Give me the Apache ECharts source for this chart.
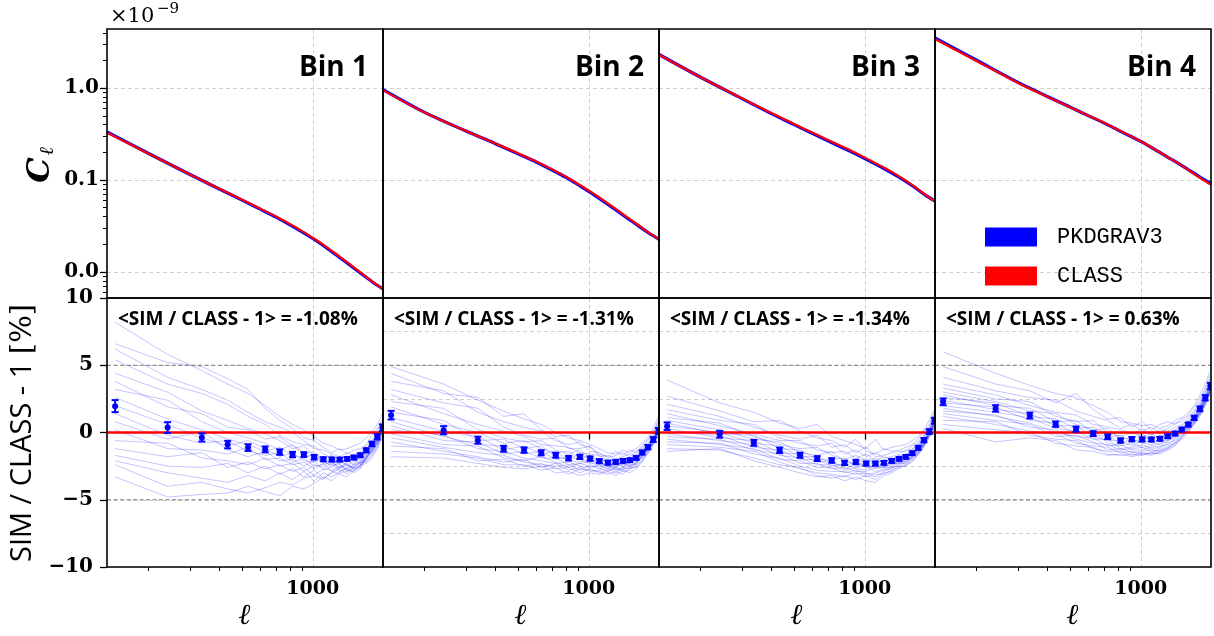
<!DOCTYPE html>
<html><head><meta charset="utf-8">
<script src="https://cdn.jsdelivr.net/npm/echarts@6/dist/echarts.min.js"></script>
<style>html,body{margin:0;padding:0;background:#fff}#c{width:1214px;height:636px}</style>
</head><body><div id="c"></div>
<script>
// ---------- DATA ----------
const ells = [144, 241, 337, 434, 530, 627, 723, 820, 916, 1013, 1109, 1206, 1302, 1399, 1495, 1592, 1688, 1785, 1881, 1978];
const clEll = [133, 200, 300, 400, 500, 600, 700, 800, 900, 1000, 1100, 1200, 1300, 1450, 1600, 1800, 1990];

// C_ell in units of 1e-9
const clClass1 = [0.327, 0.1936, 0.115, 0.0802, 0.0611, 0.0485, 0.0398, 0.0331, 0.0278, 0.0235, 0.02005, 0.01705, 0.01469, 0.01189, 0.00982, 0.00778, 0.00652];
const clSim1   = [0.334, 0.1945, 0.1148, 0.0798, 0.0605, 0.0479, 0.0392, 0.0325, 0.0273, 0.0231, 0.01965, 0.0167, 0.0144, 0.01167, 0.00968, 0.00772, 0.00654];
const clClass2 = [0.951, 0.5417, 0.3408, 0.250, 0.1951, 0.1585, 0.130, 0.1086, 0.0905, 0.0769, 0.0654, 0.0560, 0.0485, 0.0397, 0.0332, 0.0267, 0.02255];
const clSim2   = [0.963, 0.5445, 0.3408, 0.2485, 0.1927, 0.1562, 0.1279, 0.1066, 0.0888, 0.0754, 0.0640, 0.0548, 0.0475, 0.0389, 0.0327, 0.0265, 0.02258];
const clClass3 = [2.312, 1.314, 0.7747, 0.5355, 0.4072, 0.3266, 0.2715, 0.2312, 0.2005, 0.1752, 0.1542, 0.1374, 0.1225, 0.1036, 0.0873, 0.0697, 0.0585];
const clSim3   = [2.323, 1.313, 0.7700, 0.5285, 0.4005, 0.3204, 0.2659, 0.2262, 0.1962, 0.1712, 0.1507, 0.1344, 0.1200, 0.1018, 0.0862, 0.0693, 0.0590];
const clClass4 = [3.43, 1.975, 1.14, 0.805, 0.62, 0.5, 0.417, 0.3515, 0.3023, 0.2641, 0.2300, 0.2013, 0.1779, 0.1506, 0.1276, 0.1045, 0.0888];
const clSim4   = [3.51, 2.012, 1.155, 0.812, 0.622, 0.4995, 0.4155, 0.3494, 0.3009, 0.2628, 0.2289, 0.2008, 0.1779, 0.1512, 0.1286, 0.1065, 0.0918];

// mean SIM/CLASS-1 [%] and error bars
const mean1 = [1.96, 0.37, -0.37, -0.90, -1.12, -1.26, -1.46, -1.64, -1.64, -1.84, -1.99, -2.01, -2.01, -1.96, -1.86, -1.69, -1.32, -0.85, -0.32, 0.35];
const mean2 = [1.29, 0.17, -0.57, -1.21, -1.31, -1.51, -1.69, -1.91, -1.81, -1.94, -2.13, -2.24, -2.19, -2.11, -2.06, -1.89, -1.49, -1.09, -0.52, 0.12];
const mean3 = [0.47, -0.13, -0.77, -1.32, -1.69, -1.94, -2.08, -2.26, -2.19, -2.31, -2.31, -2.26, -2.11, -1.96, -1.81, -1.54, -1.14, -0.57, 0.07, 0.87];
const mean4 = [2.28, 1.79, 1.26, 0.62, 0.25, -0.08, -0.32, -0.60, -0.50, -0.52, -0.52, -0.47, -0.28, -0.08, 0.22, 0.59, 1.09, 1.76, 2.58, 3.45];
const err1 = [0.45, 0.40, 0.30, 0.28, 0.25, 0.22, 0.20, 0.20, 0.17, 0.17, 0.15, 0.15, 0.14, 0.14, 0.14, 0.14, 0.15, 0.17, 0.20, 0.25];
const err2 = [0.32, 0.30, 0.26, 0.22, 0.20, 0.19, 0.18, 0.17, 0.16, 0.16, 0.15, 0.15, 0.14, 0.14, 0.14, 0.14, 0.15, 0.16, 0.18, 0.22];
const err3 = [0.28, 0.25, 0.22, 0.20, 0.19, 0.18, 0.17, 0.16, 0.16, 0.15, 0.15, 0.14, 0.14, 0.14, 0.14, 0.14, 0.15, 0.16, 0.18, 0.22];
const err4 = [0.25, 0.24, 0.22, 0.20, 0.19, 0.18, 0.17, 0.16, 0.16, 0.15, 0.15, 0.14, 0.14, 0.14, 0.14, 0.15, 0.16, 0.18, 0.20, 0.24];

// individual simulation realizations [%]
const runs1 = [
 [8.2, 5.8, 4.6, 3.6, 2.9, 2.0, 1.2, 0.6, 0.2, -0.3, -0.8, -1.0, -1.3, -1.2, -1.0, -0.8, -0.4, 0.0, 0.6, 1.4],
 [6.6, 5.2, 4.9, 4.0, 3.2, 1.8, 0.9, 0.3, -0.4, -0.6, -1.1, -1.5, -1.2, -1.6, -1.3, -1.2, -0.9, -0.2, 0.3, 1.0],
 [6.2, 4.1, 3.2, 2.4, 1.5, 0.8, 0.4, 0.0, -0.6, -1.2, -1.3, -1.6, -1.8, -1.5, -1.7, -1.4, -1.0, -0.6, 0.1, 0.8],
 [5.4, 3.6, 2.9, 2.1, 1.2, 0.6, -0.2, -0.7, -0.9, -1.0, -1.6, -1.9, -2.2, -2.0, -1.8, -1.9, -1.3, -0.8, -0.1, 0.5],
 [4.4, 3.0, 1.6, 0.9, 0.3, -0.1, -0.6, -1.2, -1.0, -1.7, -1.9, -1.7, -2.3, -2.1, -2.4, -1.8, -1.5, -1.1, -0.4, 0.3],
 [3.8, 1.9, 1.4, 0.4, 0.2, -0.5, -0.3, -1.0, -1.6, -1.4, -2.2, -2.4, -2.0, -2.5, -2.1, -2.0, -1.7, -0.9, -0.5, 0.6],
 [3.2, 2.4, 0.8, 0.0, -0.4, -0.8, -1.3, -0.9, -1.5, -2.0, -1.8, -2.2, -2.6, -2.2, -2.0, -2.3, -1.4, -1.2, -0.6, 0.1],
 [2.6, 1.0, 0.2, -0.5, -0.9, -1.4, -1.1, -1.7, -1.9, -1.6, -2.3, -2.0, -2.4, -2.7, -2.3, -1.8, -1.6, -1.0, -0.3, 0.4],
 [2.0, 0.6, -0.4, -1.0, -0.6, -1.2, -1.8, -1.5, -2.1, -2.2, -2.0, -2.6, -2.1, -2.4, -2.6, -2.1, -1.9, -1.3, -0.7, 0.0],
 [1.4, -0.2, -0.8, -0.6, -1.4, -1.7, -1.5, -2.2, -1.9, -2.5, -2.4, -2.2, -2.7, -2.3, -2.8, -2.4, -1.7, -1.4, -0.8, 0.2],
 [0.8, -0.5, 0.1, -1.3, -1.8, -1.4, -2.1, -2.0, -2.5, -2.1, -2.8, -2.5, -2.3, -2.9, -2.4, -2.2, -2.0, -1.1, -0.6, 0.5],
 [0.2, -1.2, -1.3, -1.6, -1.1, -2.0, -1.9, -2.4, -2.2, -2.7, -2.3, -2.9, -2.6, -2.4, -2.7, -2.6, -1.8, -1.5, -0.9, -0.1],
 [-0.6, -0.8, -1.9, -2.1, -2.4, -1.9, -2.5, -2.3, -2.9, -2.4, -2.6, -2.3, -2.9, -2.6, -2.5, -2.3, -2.1, -1.6, -1.0, 0.1],
 [-1.2, -1.8, -1.5, -2.6, -2.2, -2.7, -2.4, -2.9, -2.6, -3.2, -2.7, -2.8, -2.5, -2.8, -2.9, -2.5, -1.9, -1.3, -0.7, 0.3],
 [-1.7, -2.5, -2.6, -2.3, -3.0, -2.5, -3.1, -2.7, -3.3, -2.8, -3.4, -3.0, -2.7, -3.1, -2.6, -2.2, -2.2, -1.7, -1.1, -0.2],
 [-2.1, -3.0, -3.4, -3.7, -3.2, -3.6, -3.0, -3.5, -2.9, -3.6, -3.0, -3.3, -2.9, -2.7, -3.0, -2.7, -2.0, -1.4, -0.8, 0.2],
 [-2.4, -4.0, -3.7, -4.2, -4.5, -4.1, -3.7, -3.9, -3.4, -3.2, -3.5, -2.9, -3.1, -3.3, -2.8, -2.4, -2.3, -1.9, -1.2, -0.4],
 [-3.3, -4.8, -4.6, -4.5, -4.0, -4.4, -4.7, -4.0, -4.2, -3.8, -3.3, -3.6, -3.0, -2.9, -2.6, -2.5, -1.8, -1.2, -0.6, 0.4]
];
const runs2 = [
 [4.9, 3.6, 2.4, 1.6, 1.0, 0.6, 0.0, -0.4, -0.6, -0.9, -1.2, -1.5, -1.6, -1.3, -1.5, -1.2, -0.8, -0.3, 0.3, 1.2],
 [4.4, 2.9, 2.6, 1.2, 1.4, 0.2, -0.3, -0.2, -0.9, -1.1, -1.6, -1.8, -1.4, -1.7, -1.3, -1.5, -1.0, -0.5, 0.1, 0.8],
 [3.8, 3.1, 1.5, 0.8, 0.4, 0.1, -0.6, -0.9, -0.7, -1.4, -1.5, -1.9, -1.7, -1.5, -1.8, -1.4, -1.1, -0.6, -0.1, 0.9],
 [3.2, 2.2, 1.8, 0.4, -0.2, -0.5, -0.4, -1.2, -1.2, -1.0, -1.8, -1.7, -2.0, -1.8, -1.6, -1.7, -1.3, -0.9, -0.3, 0.5],
 [2.8, 1.4, 0.6, 0.1, -0.3, -0.9, -1.0, -1.1, -1.5, -1.6, -1.7, -2.1, -1.9, -2.1, -2.0, -1.6, -1.2, -0.8, -0.4, 0.4],
 [2.3, 1.8, 0.2, -0.4, -0.7, -0.6, -1.3, -1.6, -1.3, -1.9, -2.0, -2.2, -2.3, -1.9, -2.2, -1.9, -1.5, -1.0, -0.5, 0.2],
 [1.9, 0.6, 0.0, -0.8, -0.6, -1.2, -1.5, -1.4, -1.9, -1.7, -2.2, -2.0, -2.4, -2.2, -2.0, -2.0, -1.4, -1.1, -0.6, 0.3],
 [1.5, 0.9, -0.6, -0.5, -1.2, -1.0, -1.8, -2.0, -1.6, -2.1, -2.1, -2.5, -2.2, -2.4, -2.3, -1.8, -1.6, -1.2, -0.4, 0.1],
 [1.1, 0.1, -0.3, -1.3, -1.0, -1.6, -1.4, -2.1, -2.2, -2.0, -2.4, -2.3, -2.6, -2.3, -2.1, -2.1, -1.5, -1.0, -0.7, 0.0],
 [0.8, -0.3, -0.9, -1.0, -1.6, -1.4, -2.0, -1.8, -2.0, -2.3, -2.2, -2.6, -2.4, -2.5, -2.4, -2.2, -1.7, -1.3, -0.6, 0.2],
 [0.5, -0.6, -0.7, -1.6, -1.4, -1.9, -1.9, -2.4, -2.3, -2.2, -2.5, -2.4, -2.7, -2.6, -2.2, -2.0, -1.8, -1.1, -0.5, -0.1],
 [0.2, -0.2, -1.2, -1.4, -1.9, -2.1, -2.3, -2.2, -2.5, -2.6, -2.4, -2.7, -2.5, -2.3, -2.5, -2.3, -1.6, -1.4, -0.8, 0.0],
 [-0.1, -0.9, -1.0, -1.9, -2.1, -1.8, -2.2, -2.6, -2.3, -2.5, -2.7, -2.5, -2.8, -2.7, -2.6, -2.2, -1.9, -1.2, -0.6, -0.2],
 [-0.4, -1.1, -1.5, -1.7, -2.2, -2.4, -2.5, -2.4, -2.8, -2.4, -2.6, -2.9, -2.6, -2.8, -2.4, -2.4, -1.7, -1.3, -0.9, 0.1],
 [-0.7, -1.4, -1.8, -2.2, -2.0, -2.6, -2.3, -2.8, -2.6, -2.9, -2.8, -2.7, -3.0, -2.6, -2.7, -2.5, -2.0, -1.5, -0.7, -0.3],
 [-1.0, -1.2, -2.1, -2.0, -2.5, -2.3, -2.7, -2.6, -3.0, -2.7, -3.0, -2.8, -2.7, -2.9, -2.8, -2.3, -1.8, -1.2, -0.5, -0.4],
 [-1.4, -1.6, -1.9, -2.4, -2.4, -2.8, -2.6, -3.1, -2.7, -2.8, -2.9, -3.1, -2.9, -3.1, -2.6, -2.6, -2.1, -1.6, -1.0, -0.1],
 [-1.8, -1.9, -2.3, -2.6, -2.7, -2.5, -3.0, -2.9, -3.2, -3.0, -3.1, -2.9, -3.2, -2.8, -3.0, -2.7, -2.2, -1.4, -0.8, 0.2]
];
const runs3 = [
 [3.9, 2.2, 1.5, 0.7, 0.3, 0.6, -0.3, -0.6, -0.9, -1.2, -0.5, -1.3, -1.1, -1.0, -0.9, -0.6, -0.3, 0.2, 0.9, 1.7],
 [2.7, 1.6, 0.8, 0.9, 0.1, -0.4, -0.6, -1.1, -0.5, -1.4, -1.6, -1.2, -1.4, -1.3, -1.1, -0.9, -0.5, 0.1, 0.6, 1.5],
 [2.1, 1.2, 0.4, -0.2, -0.5, -0.2, -1.1, -0.9, -1.5, -1.1, -1.8, -1.7, -1.5, -1.4, -1.4, -1.0, -0.7, -0.2, 0.4, 1.3],
 [1.7, 0.9, 0.6, -0.4, -0.8, -1.0, -0.8, -1.6, -1.3, -1.8, -1.5, -1.9, -1.8, -1.6, -1.3, -1.3, -0.8, -0.3, 0.3, 1.1],
 [1.4, 0.5, -0.1, -0.6, -0.6, -1.3, -1.5, -1.4, -1.9, -1.6, -2.1, -1.8, -2.0, -1.7, -1.7, -1.2, -1.0, -0.4, 0.2, 1.0],
 [1.1, 0.7, -0.3, -0.9, -1.2, -1.1, -1.7, -2.0, -1.7, -2.1, -1.9, -2.2, -1.9, -1.9, -1.6, -1.5, -1.0, -0.5, 0.1, 0.9],
 [0.9, 0.2, -0.5, -0.7, -1.5, -1.7, -1.4, -2.2, -2.3, -1.9, -2.3, -2.0, -2.1, -1.8, -1.9, -1.4, -1.2, -0.6, 0.0, 0.8],
 [0.7, -0.1, -0.2, -1.2, -1.3, -2.0, -2.0, -1.9, -2.5, -2.4, -2.2, -2.4, -2.2, -2.0, -1.8, -1.6, -1.1, -0.7, 0.1, 0.9],
 [0.5, 0.0, -0.8, -1.0, -1.8, -1.8, -2.3, -2.5, -2.1, -2.6, -2.5, -2.3, -2.3, -2.1, -2.0, -1.7, -1.3, -0.6, -0.1, 0.7],
 [0.3, -0.4, -0.6, -1.5, -1.6, -2.2, -2.1, -2.7, -2.4, -2.3, -2.7, -2.5, -2.4, -2.2, -1.9, -1.6, -1.2, -0.8, 0.0, 0.8],
 [0.1, -0.2, -1.1, -1.3, -2.0, -2.0, -2.5, -2.3, -2.7, -2.8, -2.4, -2.6, -2.3, -2.3, -2.1, -1.8, -1.4, -0.7, -0.2, 0.6],
 [-0.1, -0.6, -0.9, -1.7, -1.9, -2.4, -2.4, -2.8, -2.6, -2.5, -2.9, -2.7, -2.5, -2.2, -2.2, -1.7, -1.3, -0.9, 0.0, 0.7],
 [-0.3, -0.5, -1.3, -1.6, -2.3, -2.3, -2.7, -2.6, -2.9, -2.9, -2.6, -2.6, -2.6, -2.4, -2.0, -1.9, -1.5, -0.8, -0.1, 0.5],
 [-0.5, -0.9, -1.2, -2.0, -2.1, -2.6, -2.6, -3.0, -2.8, -3.1, -3.0, -2.8, -2.7, -2.3, -2.3, -1.8, -1.4, -0.9, -0.2, 0.6],
 [-0.7, -0.8, -1.6, -1.9, -2.5, -2.8, -2.9, -2.9, -3.1, -3.0, -3.3, -2.9, -2.6, -2.5, -2.2, -2.0, -1.6, -0.9, 0.0, 0.7],
 [-0.9, -1.1, -1.4, -2.2, -2.7, -3.0, -3.1, -3.3, -3.0, -3.3, -3.1, -3.1, -2.8, -2.6, -2.4, -1.9, -1.5, -1.0, -0.3, 0.4],
 [-1.2, -1.3, -1.9, -2.4, -2.6, -3.2, -3.4, -3.2, -3.5, -3.2, -3.5, -3.0, -2.9, -2.5, -2.5, -2.1, -1.7, -1.1, -0.2, 0.5],
 [-1.4, -1.2, -2.1, -2.6, -3.0, -3.3, -3.2, -3.6, -3.3, -3.6, -3.7, -3.2, -3.0, -2.7, -2.4, -2.2, -1.6, -1.0, -0.4, 0.3]
];
const runs4 = [
 [6.0, 4.4, 3.5, 2.9, 2.6, 2.0, 1.5, 0.8, 0.7, 0.5, 0.6, 0.3, 0.5, 0.9, 1.1, 1.5, 2.0, 2.8, 3.6, 4.6],
 [4.9, 3.6, 3.1, 2.2, 2.9, 1.7, 1.0, 1.1, 0.4, 0.8, 0.2, 0.6, 0.8, 0.6, 1.0, 1.3, 1.9, 2.5, 3.3, 4.3],
 [4.1, 3.1, 2.6, 2.4, 1.6, 1.2, 0.9, 0.3, 0.6, 0.1, 0.4, 0.0, 0.3, 0.7, 0.8, 1.2, 1.6, 2.3, 3.1, 4.0],
 [3.6, 2.8, 2.0, 1.5, 1.3, 0.6, 0.4, 0.2, -0.1, 0.3, -0.2, 0.2, 0.1, 0.4, 0.6, 1.0, 1.5, 2.1, 3.0, 3.8],
 [3.3, 2.5, 2.3, 1.2, 0.8, 0.9, 0.0, -0.3, 0.0, -0.3, -0.1, -0.4, 0.0, 0.2, 0.5, 0.9, 1.3, 2.0, 2.8, 3.7],
 [3.0, 2.3, 1.6, 1.4, 0.6, 0.2, 0.3, -0.5, -0.4, -0.1, -0.6, -0.2, -0.3, 0.1, 0.4, 0.7, 1.2, 1.9, 2.7, 3.5],
 [2.8, 2.0, 1.8, 0.8, 0.9, 0.0, -0.4, -0.2, -0.7, -0.5, -0.4, -0.7, -0.2, -0.1, 0.3, 0.8, 1.1, 1.8, 2.6, 3.6],
 [2.6, 2.2, 1.2, 1.0, 0.3, 0.4, -0.2, -0.8, -0.5, -0.8, -0.9, -0.5, -0.6, 0.0, 0.2, 0.6, 1.2, 1.7, 2.5, 3.4],
 [2.4, 1.7, 1.4, 0.5, 0.5, -0.3, -0.6, -0.6, -1.0, -0.6, -0.7, -0.9, -0.4, -0.3, 0.1, 0.5, 1.0, 1.8, 2.6, 3.3],
 [2.2, 1.9, 0.9, 0.7, -0.1, 0.1, -0.8, -1.0, -0.8, -1.1, -1.0, -0.8, -0.7, -0.2, 0.2, 0.4, 0.9, 1.6, 2.4, 3.4],
 [2.0, 1.5, 1.1, 0.3, 0.1, -0.5, -0.5, -1.2, -1.1, -0.9, -1.2, -1.1, -0.6, -0.4, 0.0, 0.5, 1.0, 1.7, 2.5, 3.2],
 [1.8, 1.2, 0.7, 0.0, -0.3, -0.4, -1.0, -0.9, -1.3, -1.3, -1.1, -1.0, -0.9, -0.5, 0.1, 0.3, 0.9, 1.5, 2.3, 3.3],
 [1.6, 1.3, 0.4, 0.2, -0.5, -0.8, -0.9, -1.3, -1.2, -1.1, -1.4, -1.2, -0.8, -0.6, -0.1, 0.4, 0.8, 1.6, 2.4, 3.1],
 [1.4, 0.9, 0.6, -0.3, -0.2, -0.7, -1.3, -1.2, -1.5, -1.4, -1.3, -1.4, -1.1, -0.7, -0.2, 0.2, 0.8, 1.4, 2.2, 3.2],
 [1.2, 0.6, 0.1, -0.1, -0.8, -1.0, -1.1, -1.5, -1.4, -1.6, -1.5, -1.3, -1.0, -0.8, -0.3, 0.3, 0.7, 1.5, 2.3, 3.0],
 [0.9, 0.8, -0.2, -0.5, -0.6, -1.2, -1.4, -1.4, -1.7, -1.5, -1.6, -1.5, -1.2, -0.9, -0.4, 0.1, 0.6, 1.3, 2.1, 3.1],
 [0.6, 0.2, 0.0, -0.8, -1.0, -1.1, -1.6, -1.7, -1.6, -1.7, -1.5, -1.6, -1.3, -1.0, -0.3, 0.2, 0.7, 1.4, 2.2, 2.9],
 [0.3, -0.7, -0.4, -0.6, -1.3, -1.4, -1.7, -1.6, -1.8, -1.6, -1.7, -1.4, -1.2, -0.8, -0.5, 0.0, 0.6, 1.2, 2.0, 3.0]
];

const binNames = ['Bin 1', 'Bin 2', 'Bin 3', 'Bin 4'];
const meanLabels = ['<SIM / CLASS - 1> = -1.08%', '<SIM / CLASS - 1> = -1.31%', '<SIM / CLASS - 1> = -1.34%', '<SIM / CLASS - 1> = 0.63%'];
const legendNames = ['PKDGRAV3', 'CLASS'];
const xMajorTicks = [1000];
const xMinorTicks = [200, 300, 400, 500, 600, 700, 800, 900];
const yTopMajorTicks = [0.01, 0.1, 1];
const yTopMinorTicks = [0.006, 0.007, 0.008, 0.009, 0.02, 0.03, 0.04, 0.05, 0.06, 0.07, 0.08, 0.09, 0.2, 0.3, 0.4, 0.5, 0.6, 0.7, 0.8, 0.9, 2, 3, 4];
const refLines = [5, -5];

// ---------- LAYOUT ----------
const X_MIN = 133, X_MAX = 1990, YT_MIN = 0.0052, YT_MAX = 4.4;
const L0 = 107, W = 276, TOP = 29, H = 269;
const SERIF = '"DejaVu Serif", serif';
const gridLight = {show: true, lineStyle: {color: '#cfcfcf', width: 1, type: [4, 3]}};

const clClass = [clClass1, clClass2, clClass3, clClass4];
const clSim = [clSim1, clSim2, clSim3, clSim4];
const means = [mean1, mean2, mean3, mean4];
const errs = [err1, err2, err3, err4];
const runs = [runs1, runs2, runs3, runs4];

const grid = [], xAxis = [], yAxis = [], series = [], graphic = [];
for (let i = 0; i < 4; i++) grid.push({left: L0 + W * i, top: TOP, width: W, height: H, show: true, borderColor: '#000', borderWidth: 1.6, z: 10});
for (let i = 0; i < 4; i++) grid.push({left: L0 + W * i, top: TOP + H, width: W, height: H, show: true, borderColor: '#000', borderWidth: 1.6, z: 10});

for (let i = 0; i < 4; i++) xAxis.push({type: 'log', logBase: 10, gridIndex: i, min: X_MIN, max: X_MAX,
  axisLine: {show: false}, axisLabel: {show: false}, axisTick: {show: false, customValues: xMajorTicks},
  splitLine: gridLight});
for (let i = 0; i < 4; i++) xAxis.push({type: 'log', logBase: 10, gridIndex: 4 + i, min: X_MIN, max: X_MAX, position: 'bottom',
  axisLine: {show: false},
  axisTick: {show: true, customValues: xMajorTicks, length: 7, lineStyle: {color: '#000', width: 1.3}},
  axisLabel: {show: true, customValues: xMajorTicks, margin: 13, color: '#000', fontFamily: SERIF, fontWeight: 'bold', fontSize: 19, formatter: v => String(Math.round(v))},
  splitLine: gridLight});
for (let i = 0; i < 4; i++) xAxis.push({type: 'log', logBase: 10, gridIndex: 4 + i, min: X_MIN, max: X_MAX, position: 'bottom',
  axisLine: {show: false}, axisLabel: {show: false}, splitLine: {show: false},
  axisTick: {show: true, customValues: xMinorTicks, length: 4, lineStyle: {color: '#000', width: 1}}});

for (let i = 0; i < 4; i++) yAxis.push({type: 'log', logBase: 10, gridIndex: i, min: YT_MIN, max: YT_MAX,
  axisLine: {show: false},
  axisTick: {show: i === 0, customValues: yTopMajorTicks, length: 7, lineStyle: {color: '#000', width: 1.3}},
  axisLabel: {show: i === 0, customValues: yTopMajorTicks, margin: 8, color: '#000', fontFamily: SERIF, fontWeight: 'bold', fontSize: 20, formatter: v => v.toFixed(1)},
  splitLine: gridLight});
for (let i = 0; i < 4; i++) yAxis.push({type: 'value', gridIndex: 4 + i, min: -10, max: 10, interval: i === 0 ? 5 : 2.5,
  axisLine: {show: false},
  axisTick: {show: i === 0, length: 7, lineStyle: {color: '#000', width: 1.3}},
  axisLabel: {show: i === 0, margin: 14, color: '#000', fontFamily: SERIF, fontWeight: 'bold', fontSize: 20, formatter: v => (v < 0 ? '\u2212' + (-v) : String(v))},
  splitLine: gridLight});
yAxis.push({type: 'log', logBase: 10, gridIndex: 0, min: YT_MIN, max: YT_MAX, position: 'left',
  axisLine: {show: false}, axisLabel: {show: false}, splitLine: {show: false},
  axisTick: {show: true, customValues: yTopMinorTicks, length: 4, lineStyle: {color: '#000', width: 1}}});

function errRender(params, api) {
  const x = api.value(0), y = api.value(1), e = api.value(2);
  const t = api.coord([x, y + e]), b = api.coord([x, y - e]), c = api.coord([x, y]);
  const col = '#0000ff', cw = 3.5;
  return {type: 'group', children: [
    {type: 'line', shape: {x1: t[0], y1: t[1], x2: b[0], y2: b[1]}, style: {stroke: col, lineWidth: 2}},
    {type: 'line', shape: {x1: t[0] - cw, y1: t[1], x2: t[0] + cw, y2: t[1]}, style: {stroke: col, lineWidth: 2}},
    {type: 'line', shape: {x1: b[0] - cw, y1: b[1], x2: b[0] + cw, y2: b[1]}, style: {stroke: col, lineWidth: 2}},
    {type: 'circle', shape: {cx: c[0], cy: c[1], r: 3}, style: {fill: col}}
  ]};
}

for (let i = 0; i < 4; i++) {
  series.push({type: 'line', name: legendNames[0], xAxisIndex: i, yAxisIndex: i, data: clEll.map((l, k) => [l, clSim[i][k]]),
    smooth: 0.3, showSymbol: false, silent: true, z: 2, color: '#0000ff', itemStyle: {color: '#0000ff'}, lineStyle: {color: '#0000ff', width: 3.2}});
  series.push({type: 'line', name: legendNames[1], xAxisIndex: i, yAxisIndex: i, data: clEll.map((l, k) => [l, clClass[i][k]]),
    smooth: 0.3, showSymbol: false, silent: true, z: 3, color: '#ff0000', itemStyle: {color: '#ff0000'}, lineStyle: {color: '#ff0000', width: 2.2}});
  runs[i].forEach(r => series.push({type: 'line', xAxisIndex: 4 + i, yAxisIndex: 4 + i, data: ells.map((l, k) => [l, r[k]]),
    showSymbol: false, silent: true, z: 2, lineStyle: {color: 'rgba(0,0,255,0.26)', width: 0.9}}));
  refLines.forEach(v => series.push({type: 'line', xAxisIndex: 4 + i, yAxisIndex: 4 + i, data: [[X_MIN, v], [X_MAX, v]],
    showSymbol: false, silent: true, z: 3, lineStyle: {color: '#7a7a7a', width: 1, type: [4, 2.5]}}));
  series.push({type: 'line', xAxisIndex: 4 + i, yAxisIndex: 4 + i, data: [[X_MIN, 0], [X_MAX, 0]],
    showSymbol: false, silent: true, z: 4, lineStyle: {color: '#ff0000', width: 2.6}});
  series.push({type: 'custom', xAxisIndex: 4 + i, yAxisIndex: 4 + i, data: ells.map((l, k) => [l, means[i][k], errs[i][k]]),
    renderItem: errRender, clip: true, silent: true, z: 5});

  graphic.push({type: 'text', x: L0 + W * (i + 1) - 15, y: 68, z: 100,
    style: {text: binNames[i], font: 'bold 28px "Open Sans"', fill: '#000', align: 'right', verticalAlign: 'middle', textAlign: 'right', textVerticalAlign: 'middle'}});
  graphic.push({type: 'text', x: L0 + W * i + 11, y: 320, z: 100,
    style: {text: meanLabels[i], font: 'bold 19px "Open Sans"', fill: '#000', align: 'left', verticalAlign: 'middle', textAlign: 'left', textVerticalAlign: 'middle'}});
  graphic.push({type: 'text', x: L0 + W * i + W / 2, y: 616, z: 100,
    style: {text: '\u2113', font: 'bold italic 29px ' + SERIF, fill: '#000', align: 'center', verticalAlign: 'middle', textAlign: 'center', textVerticalAlign: 'middle'}});
}

graphic.push({type: 'text', x: 110, y: 17, z: 100, style: {text: '\u00d710', font: '21px ' + SERIF, fill: '#000', align: 'left', verticalAlign: 'middle', textAlign: 'left', textVerticalAlign: 'middle'}});
graphic.push({type: 'text', x: 157, y: 9, z: 100, style: {text: '\u22129', font: '15px ' + SERIF, fill: '#000', align: 'left', verticalAlign: 'middle', textAlign: 'left', textVerticalAlign: 'middle'}});
graphic.push({type: 'text', x: 41, y: 170, rotation: Math.PI / 2, z: 100, style: {text: 'C', font: 'bold italic 32px ' + SERIF, fill: '#000', align: 'center', verticalAlign: 'middle', textAlign: 'center', textVerticalAlign: 'middle'}});
graphic.push({type: 'text', x: 48, y: 151, rotation: Math.PI / 2, z: 100, style: {text: '\u2113', font: 'bold italic 20px ' + SERIF, fill: '#000', align: 'center', verticalAlign: 'middle', textAlign: 'center', textVerticalAlign: 'middle'}});
graphic.push({type: 'text', x: 23, y: 433, rotation: Math.PI / 2, z: 100,
  style: {text: '{a|SIM / CLASS - 1 }{b|[%]}', fill: '#000', align: 'center', verticalAlign: 'middle', textAlign: 'center', textVerticalAlign: 'middle',
    rich: {a: {fontFamily: '"Open Sans"', fontSize: 29, fill: '#000', color: '#000'}, b: {fontFamily: SERIF, fontSize: 29, fill: '#000', color: '#000'}}}});

const option = {
  animation: false,
  backgroundColor: '#fff',
  grid, xAxis, yAxis, series, graphic,
  legend: {data: legendNames, orient: 'vertical', left: 985, top: 226, itemWidth: 52, itemHeight: 19, itemGap: 17, icon: 'rect',
    selectedMode: false, padding: 0, textStyle: {fontFamily: '"Courier New", "Liberation Mono", monospace', fontSize: 22, color: '#000', padding: [0, 0, 0, 15]}}
};
const chart = echarts.init(document.getElementById('c'), null, {renderer: 'canvas'});
chart.setOption(option);
</script></body></html>
